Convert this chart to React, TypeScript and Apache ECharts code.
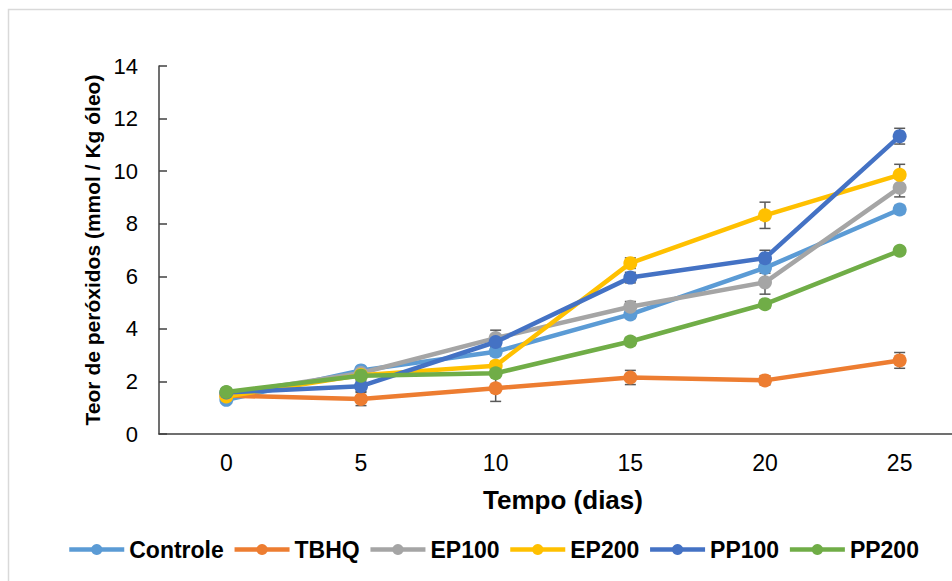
import React, { useEffect, useRef } from "react";
import * as echarts from "echarts";

const categories = ["0", "5", "10", "15", "20", "25"];
const seriesNames = ["Controle", "TBHQ", "EP100", "EP200", "PP100", "PP200"];
const colors = ["#5B9BD5", "#ED7D31", "#A5A5A5", "#FFC000", "#4472C4", "#70AD47"];

const controle = [1.3, 2.42, 3.13, 4.55, 6.32, 8.54];
const tbhq = [1.46, 1.33, 1.74, 2.15, 2.04, 2.8];
const ep100 = [1.52, 2.32, 3.65, 4.84, 5.77, 9.37];
const ep200 = [1.43, 2.24, 2.6, 6.5, 8.32, 9.86];
const pp100 = [1.58, 1.82, 3.5, 5.95, 6.69, 11.33];
const pp200 = [1.6, 2.22, 2.31, 3.52, 4.94, 6.97];

const controleErr = [0.1, 0.12, 0.15, 0.15, 0.2, 0.15];
const tbhqErr = [0.12, 0.25, 0.5, 0.27, 0.17, 0.3];
const ep100Err = [0.1, 0.12, 0.3, 0.2, 0.45, 0.35];
const ep200Err = [0.1, 0.1, 0.15, 0.2, 0.5, 0.4];
const pp100Err = [0.1, 0.2, 0.2, 0.2, 0.3, 0.3];
const pp200Err = [0.08, 0.1, 0.12, 0.15, 0.15, 0.12];

const yTicks = { min: 0, max: 14, interval: 2 };

const allValues = [controle, tbhq, ep100, ep200, pp100, pp200];
const allErrors = [controleErr, tbhqErr, ep100Err, ep200Err, pp100Err, pp200Err];

const FONT = "'Liberation Sans', Arial, sans-serif";

export default function App() {
  const ref = useRef<HTMLDivElement>(null);
  useEffect(() => {
    if (!ref.current) return;
    const chart = echarts.init(ref.current, undefined, { renderer: "svg" });

    const lineSeries: any[] = seriesNames.map((name, i) => ({
      name,
      type: "line",
      data: allValues[i],
      symbol: "circle",
      symbolSize: 14,
      lineStyle: { width: 4.5, color: colors[i] },
      itemStyle: { color: colors[i] },
      z: 2 + i * 0.01,
    }));

    const errSeries: any[] = seriesNames.map((name, i) => ({
      name: name + "-err",
      type: "custom",
      z: 1,
      silent: true,
      data: allValues[i].map((v, j) => [j, v, allErrors[i][j]]),
      encode: { x: 0, y: 1 },
      renderItem: (params: any, api: any) => {
        const x = api.value(0);
        const v = api.value(1);
        const e = api.value(2);
        const top = api.coord([x, v + e]);
        const bot = api.coord([x, v - e]);
        const cap = 5.5;
        const style = { stroke: "#595959", lineWidth: 1.5 };
        return {
          type: "group",
          children: [
            { type: "line", shape: { x1: top[0], y1: top[1], x2: bot[0], y2: bot[1] }, style },
            { type: "line", shape: { x1: top[0] - cap, y1: top[1], x2: top[0] + cap, y2: top[1] }, style },
            { type: "line", shape: { x1: bot[0] - cap, y1: bot[1], x2: bot[0] + cap, y2: bot[1] }, style },
          ],
        };
      },
    }));

    chart.setOption({
      animation: false,
      backgroundColor: "#ffffff",
      textStyle: { fontFamily: FONT },
      graphic: [
        {
          type: "rect",
          shape: { x: 8.5, y: 9.5, width: 1200, height: 1200 },
          style: { fill: "none", stroke: "#d9d9d9", lineWidth: 1.5 },
          silent: true,
        },
      ],
      grid: { left: 159, top: 66, width: 808, height: 368, containLabel: false },
      legend: {
        data: seriesNames,
        left: 67,
        top: 538,
        padding: 0,
        itemWidth: 55,
        itemHeight: 14,
        itemGap: 8.5,
        lineStyle: { width: 4.5 },
        textStyle: { fontFamily: FONT, fontSize: 23, fontWeight: "bold", color: "#000" },
      },
      xAxis: {
        type: "category",
        data: categories,
        boundaryGap: true,
        name: "Tempo (dias)",
        nameLocation: "middle",
        nameGap: 53,
        nameTextStyle: { fontFamily: FONT, fontSize: 26, fontWeight: "bold", color: "#000" },
        axisLine: { lineStyle: { color: "#404040", width: 1.5 } },
        axisTick: { show: false },
        axisLabel: { fontFamily: FONT, fontSize: 23, color: "#000", margin: 17 },
        splitLine: { show: false },
      },
      yAxis: {
        type: "value",
        min: yTicks.min,
        max: yTicks.max,
        interval: yTicks.interval,
        name: "Teor de peróxidos (mmol / Kg óleo)",
        nameLocation: "middle",
        nameGap: 50,
        nameTextStyle: { fontFamily: FONT, fontSize: 21, fontWeight: "bold", color: "#000" },
        axisLine: { show: true, lineStyle: { color: "#404040", width: 1.5 } },
        axisTick: { show: true, inside: true, length: 8, lineStyle: { color: "#404040", width: 1.5 } },
        axisLabel: { fontFamily: FONT, fontSize: 22, color: "#000", margin: 21 },
        splitLine: { show: false },
      },
      series: [...errSeries, ...lineSeries],
    });
    return () => chart.dispose();
  }, []);
  return (
    <div style={{ position: "fixed", left: 0, top: 0, width: 952, height: 581, overflow: "hidden", background: "#fff" }}>
      <div ref={ref} style={{ width: 990, height: 581 }} />
    </div>
  );
}
